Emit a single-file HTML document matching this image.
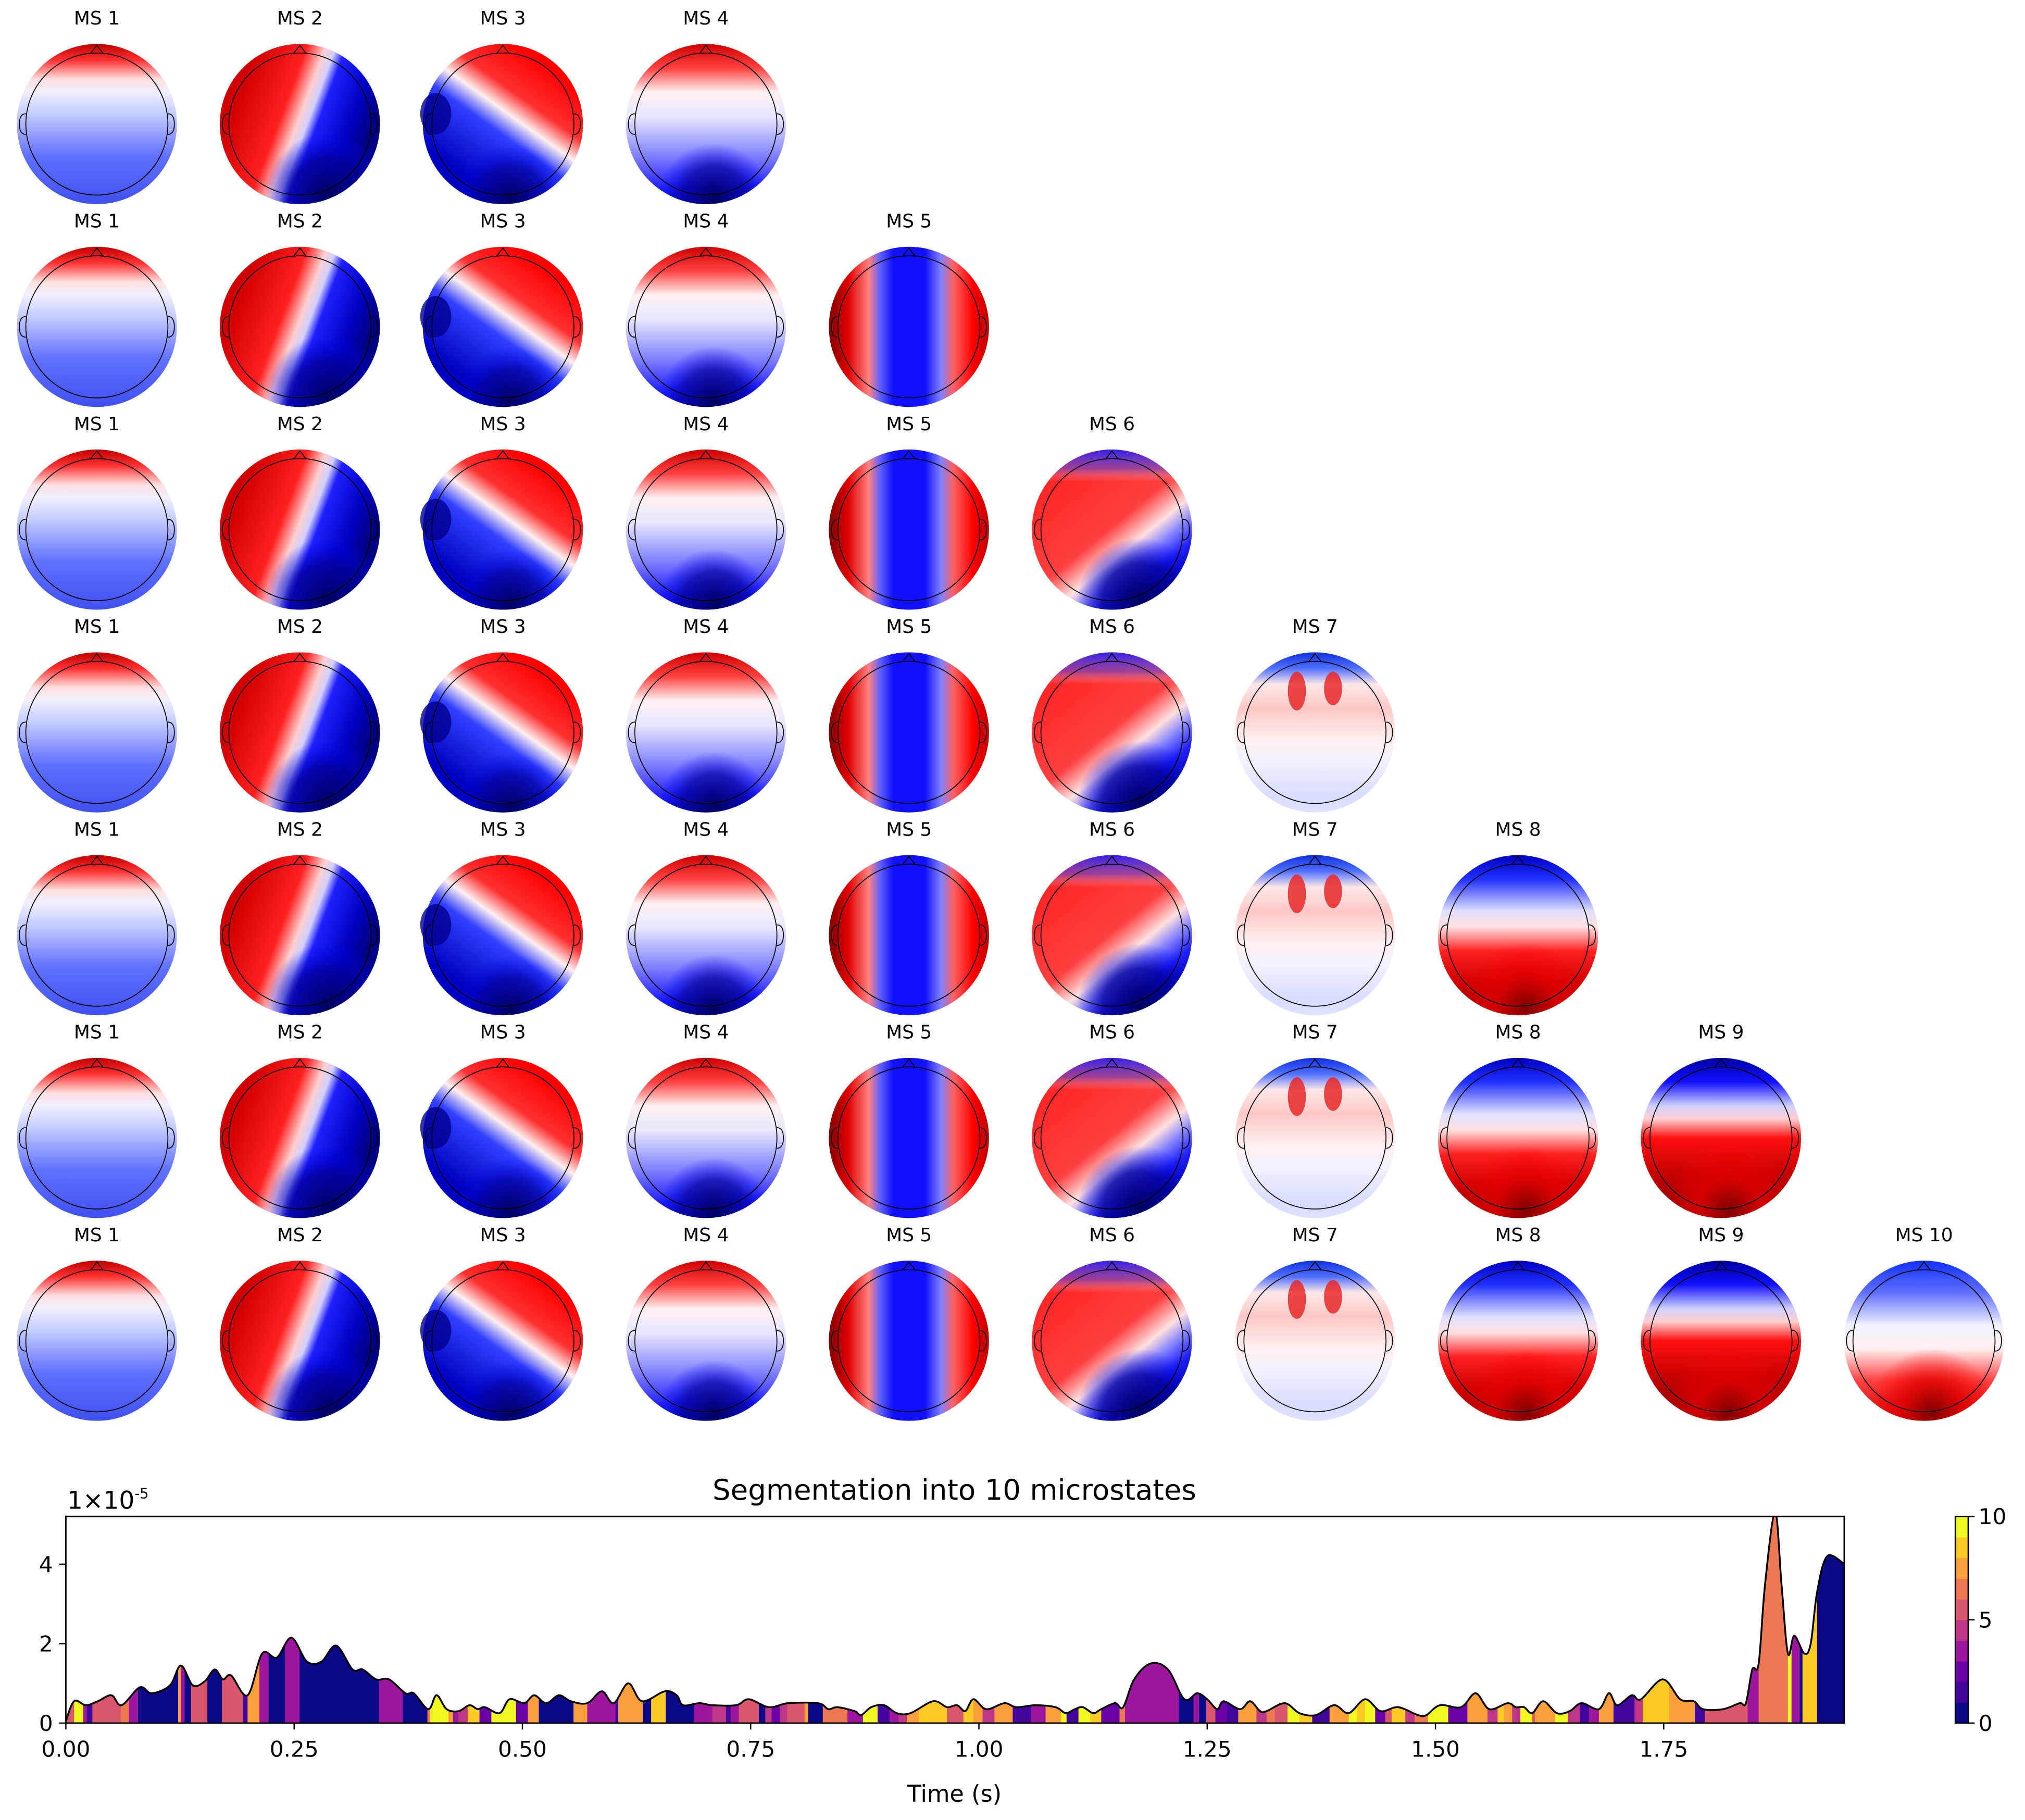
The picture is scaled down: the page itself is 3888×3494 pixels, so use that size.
<!DOCTYPE html>
<html><head><meta charset="utf-8"><style>
html,body{margin:0;padding:0;background:#fff;}
svg{display:block;font-family:"DejaVu Sans","Liberation Sans",sans-serif;}
</style></head><body>
<svg id="fig" width="3888" height="3494" viewBox="0 0 1568 1409" xmlns="http://www.w3.org/2000/svg">
<defs>
<linearGradient id="g1" x1="0" y1="0" x2="0" y2="1"><stop offset="0" stop-color="#c00000"/><stop offset=".1" stop-color="#ff3030"/><stop offset=".22" stop-color="#ffe0e0"/><stop offset=".3" stop-color="#f0f0ff"/><stop offset=".45" stop-color="#c0c8ff"/><stop offset=".7" stop-color="#6070ff"/><stop offset="1" stop-color="#4050f0"/></linearGradient>
<linearGradient id="g2" x1=".1" y1=".35" x2=".9" y2=".65"><stop offset="0" stop-color="#d00000"/><stop offset=".35" stop-color="#ff2020"/><stop offset=".48" stop-color="#ffd0d0"/><stop offset=".55" stop-color="#d0d0ff"/><stop offset=".62" stop-color="#2020ff"/><stop offset=".85" stop-color="#0000c0"/><stop offset="1" stop-color="#000080"/></linearGradient>
<linearGradient id="g3" x1=".8" y1=".15" x2=".3" y2=".85"><stop offset="0" stop-color="#ff0000"/><stop offset=".3" stop-color="#ff3030"/><stop offset=".45" stop-color="#fff0f0"/><stop offset=".6" stop-color="#3040ff"/><stop offset="1" stop-color="#0000c0"/></linearGradient>
<linearGradient id="g4" x1="0" y1="0" x2="0" y2="1"><stop offset="0" stop-color="#d00000"/><stop offset=".15" stop-color="#ff4040"/><stop offset=".3" stop-color="#fff0f0"/><stop offset=".45" stop-color="#e8e8ff"/><stop offset=".7" stop-color="#8080ff"/><stop offset=".9" stop-color="#2020ff"/><stop offset="1" stop-color="#1010c0"/></linearGradient>
<linearGradient id="g5" x1="0" y1="0" x2="1" y2="0"><stop offset="0" stop-color="#800000"/><stop offset=".12" stop-color="#e00000"/><stop offset=".25" stop-color="#ff8080"/><stop offset=".32" stop-color="#6060ff"/><stop offset=".4" stop-color="#1010ff"/><stop offset=".6" stop-color="#1010ff"/><stop offset=".7" stop-color="#8080ff"/><stop offset=".78" stop-color="#ff6060"/><stop offset=".9" stop-color="#ff0000"/><stop offset="1" stop-color="#c00000"/></linearGradient>
<linearGradient id="g6" x1=".1" y1=".1" x2=".8" y2=".95"><stop offset="0" stop-color="#ff2020"/><stop offset=".5" stop-color="#ff4040"/><stop offset=".65" stop-color="#ffe0e0"/><stop offset=".75" stop-color="#8080ff"/><stop offset=".85" stop-color="#2020ff"/><stop offset="1" stop-color="#000080"/></linearGradient>
<linearGradient id="g7" x1="0" y1="0" x2="0" y2="1"><stop offset="0" stop-color="#1030e0"/><stop offset=".1" stop-color="#5070ff"/><stop offset=".2" stop-color="#ffe8e8"/><stop offset=".35" stop-color="#ffc8c8"/><stop offset=".55" stop-color="#fff0f0"/><stop offset=".7" stop-color="#f0f0ff"/><stop offset=".9" stop-color="#d8dcff"/><stop offset="1" stop-color="#dfe2ff"/></linearGradient>
<linearGradient id="g8" x1="0" y1="0" x2="0" y2="1"><stop offset="0" stop-color="#0000c0"/><stop offset=".15" stop-color="#2030ff"/><stop offset=".35" stop-color="#e0e0ff"/><stop offset=".45" stop-color="#ffe0e0"/><stop offset=".6" stop-color="#ff2020"/><stop offset=".8" stop-color="#d00000"/><stop offset="1" stop-color="#900000"/></linearGradient>
<linearGradient id="g9" x1="0" y1="0" x2="0" y2="1"><stop offset="0" stop-color="#0000a0"/><stop offset=".15" stop-color="#1010ff"/><stop offset=".3" stop-color="#d0d0ff"/><stop offset=".38" stop-color="#ffd0d0"/><stop offset=".5" stop-color="#ff1010"/><stop offset=".75" stop-color="#c00000"/><stop offset="1" stop-color="#800000"/></linearGradient>
<linearGradient id="g10" x1="0" y1="0" x2="0" y2="1"><stop offset="0" stop-color="#1030ff"/><stop offset=".2" stop-color="#6070ff"/><stop offset=".4" stop-color="#f0f0ff"/><stop offset=".55" stop-color="#fff0f0"/><stop offset=".75" stop-color="#ff4040"/><stop offset="1" stop-color="#d00000"/></linearGradient>
<linearGradient id="blueTop" x1="0" y1="0" x2="0" y2="1"><stop offset="0" stop-color="#2020ff" stop-opacity=".9"/><stop offset=".12" stop-color="#4050ff" stop-opacity=".5"/><stop offset=".2" stop-color="#fff" stop-opacity="0"/></linearGradient>
<radialGradient id="navyBR" cx=".68" cy=".95" r=".4"><stop offset="0" stop-color="#000060"/><stop offset=".6" stop-color="#0000a0" stop-opacity=".8"/><stop offset="1" stop-color="#0000ff" stop-opacity="0"/></radialGradient>
<radialGradient id="navyB" cx=".55" cy=".97" r=".35"><stop offset="0" stop-color="#000060"/><stop offset=".6" stop-color="#0000a0" stop-opacity=".7"/><stop offset="1" stop-color="#0000ff" stop-opacity="0"/></radialGradient>
<radialGradient id="redB" cx=".55" cy=".95" r=".4"><stop offset="0" stop-color="#800000"/><stop offset=".5" stop-color="#e00000" stop-opacity=".8"/><stop offset="1" stop-color="#ff0000" stop-opacity="0"/></radialGradient>
</defs>
<g id="topos"></g>
<g id="chart"></g>
</svg>
<script>
// ---------- chart data ----------
const gfpTimes = [0,0.009,0.022,0.035,0.05,0.061,0.081,0.094,0.114,0.126,0.139,0.152,0.163,0.172,0.181,0.199,0.215,0.231,0.247,0.264,0.28,0.296,0.314,0.325,0.34,0.354,0.372,0.381,0.397,0.406,0.417,0.43,0.442,0.451,0.459,0.475,0.486,0.502,0.513,0.526,0.54,0.553,0.571,0.587,0.6,0.616,0.631,0.656,0.669,0.676,0.694,0.708,0.734,0.748,0.77,0.791,0.824,0.835,0.845,0.864,0.871,0.882,0.896,0.91,0.925,0.95,0.965,0.976,0.985,0.994,1.008,1.028,1.041,1.062,1.084,1.095,1.105,1.114,1.125,1.134,1.149,1.158,1.17,1.188,1.207,1.225,1.239,1.25,1.261,1.268,1.286,1.297,1.308,1.315,1.335,1.351,1.369,1.389,1.405,1.423,1.44,1.459,1.481,1.49,1.505,1.528,1.544,1.559,1.579,1.588,1.597,1.606,1.618,1.633,1.647,1.66,1.679,1.69,1.699,1.715,1.725,1.749,1.768,1.783,1.793,1.815,1.833,1.84,1.847,1.854,1.861,1.872,1.879,1.886,1.893,1.904,1.911,1.918,1.929,1.948];
const gfpValues = [0.05,0.55,0.45,0.55,0.7,0.45,0.9,0.75,0.95,1.45,0.95,1.05,1.35,1.1,1.2,0.7,1.75,1.65,2.15,1.55,1.55,1.95,1.35,1.35,1.1,1.1,0.75,0.75,0.35,0.7,0.35,0.3,0.45,0.35,0.4,0.25,0.6,0.5,0.7,0.5,0.7,0.55,0.5,0.8,0.5,1.0,0.55,0.8,0.7,0.45,0.5,0.45,0.45,0.6,0.4,0.5,0.5,0.35,0.4,0.3,0.2,0.4,0.45,0.25,0.25,0.55,0.4,0.45,0.3,0.6,0.35,0.5,0.4,0.45,0.4,0.25,0.35,0.4,0.25,0.35,0.5,0.4,1.1,1.5,1.35,0.6,0.75,0.6,0.35,0.55,0.35,0.55,0.3,0.3,0.5,0.25,0.2,0.45,0.25,0.6,0.3,0.4,0.2,0.2,0.45,0.4,0.75,0.35,0.5,0.4,0.4,0.25,0.55,0.25,0.3,0.5,0.35,0.75,0.45,0.7,0.6,1.1,0.6,0.55,0.35,0.35,0.5,0.5,1.35,1.5,3.5,5.3,3.5,1.75,2.2,1.75,2.0,3.3,4.2,4.0];
const segStarts = [0,0.009,0.019,0.023,0.029,0.06,0.069,0.079,0.123,0.126,0.13,0.137,0.155,0.171,0.194,0.199,0.212,0.222,0.24,0.256,0.343,0.369,0.396,0.399,0.419,0.424,0.43,0.44,0.453,0.466,0.493,0.506,0.518,0.556,0.571,0.602,0.605,0.632,0.641,0.657,0.688,0.708,0.723,0.728,0.737,0.759,0.766,0.773,0.782,0.79,0.809,0.813,0.829,0.856,0.873,0.889,0.902,0.912,0.921,0.934,0.965,0.983,0.994,1.004,1.017,1.037,1.057,1.073,1.09,1.096,1.109,1.122,1.134,1.154,1.16,1.219,1.235,1.241,1.249,1.259,1.272,1.284,1.304,1.315,1.324,1.338,1.351,1.365,1.384,1.405,1.414,1.423,1.434,1.445,1.452,1.467,1.477,1.492,1.514,1.535,1.557,1.568,1.575,1.584,1.593,1.606,1.609,1.631,1.645,1.658,1.668,1.679,1.695,1.718,1.727,1.756,1.784,1.795,1.842,1.854,1.886,1.89,1.899,1.902,1.918];
const segLabels = [5,9,3,1,5,6,3,0,7,3,0,5,0,5,1,7,3,0,3,0,3,0,6,9,7,3,4,8,2,9,2,7,0,7,3,1,7,0,8,0,3,4,1,3,5,0,4,2,4,5,7,0,6,3,9,1,3,4,7,8,5,8,7,4,7,1,3,7,9,1,9,8,2,6,3,0,3,0,5,2,1,7,4,6,5,9,8,1,7,9,8,9,2,5,8,4,6,9,2,7,4,8,7,4,9,5,7,9,4,1,3,7,1,4,8,7,1,5,3,6,9,3,0,8,0];
const xTickValues = [0,0.25,0.5,0.75,1.0,1.25,1.5,1.75];
const xTickLabels = ["0.00","0.25","0.50","0.75","1.00","1.25","1.50","1.75"];
const yTickValues = [0,2,4];
const yTickLabels = ["0","2","4"];
const cbTickValues = [0,5,10];
const cbTickLabels = ["0","5","10"];
const plasma10 = ["#0d0887","#41049d","#6a00a8","#9c179e","#bd3786","#d8576b","#ed7953","#fb9f3a","#fdca26","#f0f921"];
const topoTitlesPrefix = "MS ";

const NS = "http://www.w3.org/2000/svg";
function mk(tag, attrs, parent){const e=document.createElementNS(NS,tag);for(const k in attrs)e.setAttribute(k,attrs[k]);if(parent)parent.appendChild(e);return e;}

// ---------- topomaps ----------
const topos = document.getElementById('topos');
for (let r = 0; r < 7; r++) {
  const n = 4 + r;
  for (let c = 0; c < n; c++) {
    const cx = 75 + 157.2 * c, cy = 96 + 157 * r, R = 62;
    const k = c + 1;
    const g = mk('g', {}, topos);
    
    
    const t = mk('text', {x: cx, y: cy - 77, 'text-anchor': 'middle', 'font-size': 14.5, fill: '#000'}, g);
    t.textContent = topoTitlesPrefix + k;
    
    
    mk('circle', {cx: cx, cy: cy, r: R, fill: 'url(#g' + k + ')'}, g);
    if (k === 2 || k === 6) mk('circle', {cx: cx, cy: cy, r: R, fill: 'url(#navyBR)'}, g);
    if (k === 6) mk('circle', {cx: cx, cy: cy, r: R, fill: 'url(#blueTop)'}, g);
    if (k === 3 || k === 4) mk('circle', {cx: cx, cy: cy, r: R, fill: 'url(#navyB)'}, g);
    if (k === 7) {
      mk('ellipse', {cx: cx - 14, cy: cy - 32, rx: 7, ry: 15, fill: '#e82828', opacity: .85}, g);
      mk('ellipse', {cx: cx + 14, cy: cy - 34, rx: 7, ry: 13, fill: '#e82828', opacity: .85}, g);
    }
    if (k === 3) mk('ellipse', {cx: cx - 52, cy: cy - 8, rx: 12, ry: 16, fill: '#000090', opacity: .8}, g);
    if (k === 8 || k === 9 || k === 10) mk('circle', {cx: cx, cy: cy, r: R, fill: 'url(#redB)'}, g);
    const rh = 55;
    mk('circle', {cx: cx, cy: cy, r: rh, fill: 'none', stroke: '#000', 'stroke-width': .7}, g);
    mk('path', {d: `M${cx-5},${cy-rh+0.5} L${cx},${cy-rh-6} L${cx+5},${cy-rh+0.5}`, fill: 'none', stroke: '#000', 'stroke-width': .7}, g);
    mk('path', {d: `M${cx-rh},${cy-8} q-5,0 -5,8 q0,8 5,8`, fill: 'none', stroke: '#000', 'stroke-width': .7}, g);
    mk('path', {d: `M${cx+rh},${cy-8} q5,0 5,8 q0,8 -5,8`, fill: 'none', stroke: '#000', 'stroke-width': .7}, g);
  }
}

// ---------- segmentation chart ----------
const chart = document.getElementById('chart');
const L = 51, Rr = 1428, T = 1174, B = 1334;
const xMax = (Rr - L) / 707;
const yMax = (B - T) / 30.75;
function xs(t){return L + t / xMax * (Rr - L);}
function ys(v){return B - v / yMax * (B - T);}

const title = mk('text', {x: 739, y: 1161, 'text-anchor': 'middle', 'font-size': 22}, chart);
title.textContent = 'Segmentation into 10 microstates';



const off = mk('text', {x: 52, y: 1168, 'font-size': 19}, chart);
off.innerHTML = '1×10<tspan font-size="11" dy="-8">-5</tspan>';



// smooth curve path
const pts = gfpTimes.map((t, i) => [xs(t), ys(gfpValues[i])]);
let d = `M${pts[0][0]},${pts[0][1]}`;
for (let i = 0; i < pts.length - 1; i++) {
  const p0 = pts[Math.max(0, i - 1)], p1 = pts[i], p2 = pts[i + 1], p3 = pts[Math.min(pts.length - 1, i + 2)];
  const c1 = [p1[0] + (p2[0] - p0[0]) / 6, p1[1] + (p2[1] - p0[1]) / 6];
  const c2 = [p2[0] - (p3[0] - p1[0]) / 6, p2[1] - (p3[1] - p1[1]) / 6];
  d += ` C${c1[0]},${c1[1]} ${c2[0]},${c2[1]} ${p2[0]},${p2[1]}`;
}
const defs = document.querySelector('defs');
const cp = mk('clipPath', {id: 'areaClip'}, defs);
mk('path', {d: d + ` L${pts[pts.length-1][0]},${B} L${pts[0][0]},${B} Z`}, cp);
const cp2 = mk('clipPath', {id: 'axClip'}, defs);
mk('rect', {x: L, y: T, width: Rr - L, height: B - T}, cp2);

const plot = mk('g', {'clip-path': 'url(#axClip)'}, chart);
const segG = mk('g', {'clip-path': 'url(#areaClip)'}, plot);


for (let i = 0; i < segStarts.length; i++) {
  const t0 = segStarts[i], t1 = i + 1 < segStarts.length ? segStarts[i + 1] : gfpTimes[gfpTimes.length - 1];
  const rc = mk('rect', {x: xs(t0), y: T, width: Math.max(0.3, xs(t1) - xs(t0) + 0.3), height: B - T, fill: plasma10[segLabels[i]]}, segG);
  
  
}
const line = mk('path', {d: d, fill: 'none', stroke: '#000', 'stroke-width': 1.4}, plot);



const frame = mk('rect', {x: L, y: T, width: Rr - L, height: B - T, fill: 'none', stroke: '#000', 'stroke-width': 1.1}, chart);



xTickValues.forEach((v, i) => {
  const x = xs(v);
  mk('line', {x1: x, y1: B, x2: x, y2: B + 5, stroke: '#000', 'stroke-width': 1}, chart);
  const tl = mk('text', {x: x, y: B + 26, 'text-anchor': 'middle', 'font-size': 17}, chart);
  tl.textContent = xTickLabels[i];
  
  
});
yTickValues.forEach((v, i) => {
  const y = ys(v);
  mk('line', {x1: L - 5, y1: y, x2: L, y2: y, stroke: '#000', 'stroke-width': 1}, chart);
  const tl = mk('text', {x: L - 10, y: y + 6, 'text-anchor': 'end', 'font-size': 17}, chart);
  tl.textContent = yTickLabels[i];
  
  
});
const xl = mk('text', {x: 739, y: 1395, 'text-anchor': 'middle', 'font-size': 18}, chart);
xl.textContent = 'Time (s)';



// colorbar
const cbX = 1514, cbW = 10;
const cb = mk('g', {}, chart);


const bandH = (B - T) / plasma10.length;
plasma10.forEach((col, i) => {
  mk('rect', {x: cbX, y: B - (i + 1) * bandH, width: cbW, height: bandH + 0.3, fill: col}, cb);
});
mk('rect', {x: cbX, y: T, width: cbW, height: B - T, fill: 'none', stroke: '#000', 'stroke-width': 1}, cb);
cbTickValues.forEach((v, i) => {
  const y = B - v / 10 * (B - T);
  mk('line', {x1: cbX + cbW, y1: y, x2: cbX + cbW + 5, y2: y, stroke: '#000', 'stroke-width': 1}, cb);
  const tl = mk('text', {x: cbX + cbW + 8, y: y + 6, 'font-size': 17}, cb);
  tl.textContent = cbTickLabels[i];
  
  
});
</script>
</body></html>
